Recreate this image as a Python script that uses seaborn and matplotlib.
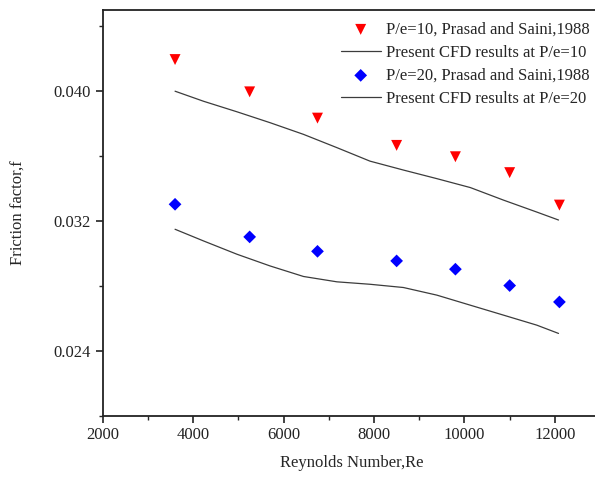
import matplotlib
matplotlib.use("Agg")
import matplotlib.pyplot as plt
from matplotlib.ticker import MultipleLocator, FormatStrFormatter
import seaborn as sns
import pandas as pd

# Reynolds numbers of the Prasad and Saini (1988) points
re_exp = [3600, 5250, 6750, 8500, 9800, 11000, 12100]
f_exp_pe10 = [0.04195, 0.03996, 0.03834, 0.03666, 0.03596, 0.03498, 0.03298]
f_exp_pe20 = [0.03303, 0.03102, 0.03013, 0.02954, 0.02903, 0.02802, 0.02701]

# Present CFD results (sampled along the computed curves)
re_cfd = [3600, 4230, 4970, 5700, 6440, 7180, 7910, 8650, 9390, 10130,
          10860, 11600, 12080]
f_cfd_pe10 = [0.04000, 0.03938, 0.03873, 0.03806, 0.03734, 0.03652, 0.03569,
              0.03514, 0.03461, 0.03406, 0.03329, 0.03255, 0.03206]
f_cfd_pe20 = [0.03149, 0.03077, 0.02995, 0.02923, 0.02858, 0.02825, 0.02810,
              0.02790, 0.02743, 0.02681, 0.02620, 0.02558, 0.02507]

label_exp10 = "P/e=10, Prasad and Saini,1988"
label_cfd10 = "Present CFD results at P/e=10"
label_exp20 = "P/e=20, Prasad and Saini,1988"
label_cfd20 = "Present CFD results at P/e=20"

exp_df = pd.DataFrame({"Re": re_exp, "pe10": f_exp_pe10, "pe20": f_exp_pe20})
cfd_df = pd.DataFrame({"Re": re_cfd, "pe10": f_cfd_pe10, "pe20": f_cfd_pe20})

sns.set_style("ticks")
plt.rcParams["font.family"] = ["Liberation Serif", "DejaVu Serif"]

fig = plt.figure(figsize=(5.95, 4.8), dpi=100)
ax = fig.add_axes([0.1726, 0.134, 0.836, 0.845])

line_color = "#3c3c3c"
sns.scatterplot(data=exp_df, x="Re", y="pe10", marker="v", s=62, color="#ff0000",
                edgecolor="none", linewidth=0, ax=ax, label=label_exp10, zorder=3)
sns.lineplot(data=cfd_df, x="Re", y="pe10", color=line_color, linewidth=0.9,
             ax=ax, label=label_cfd10)
sns.scatterplot(data=exp_df, x="Re", y="pe20", marker="D", s=42, color="#0000ff",
                edgecolor="none", linewidth=0, ax=ax, label=label_exp20, zorder=3)
sns.lineplot(data=cfd_df, x="Re", y="pe20", color=line_color, linewidth=0.9,
             ax=ax, label=label_cfd20)

ax.set_xlim(2000, 13000)
ax.set_ylim(0.020, 0.045)
ax.xaxis.set_major_locator(MultipleLocator(2000))
ax.xaxis.set_minor_locator(MultipleLocator(1000))
ax.yaxis.set_major_locator(MultipleLocator(0.008))
ax.yaxis.set_minor_locator(MultipleLocator(0.004))
ax.yaxis.set_major_formatter(FormatStrFormatter("%.3f"))

for side in ["left", "bottom", "top"]:
    ax.spines[side].set_linewidth(1.3)
    ax.spines[side].set_color("#222222")
ax.spines["right"].set_visible(False)

ax.tick_params(which="major", direction="out", length=5, width=1.2,
               labelsize=12, colors="#222222", top=False, right=False)
ax.tick_params(which="minor", direction="out", length=3, width=1.0,
               top=False, right=False)

ax.set_xlabel("Reynolds Number,Re", fontsize=12, labelpad=8)
ax.set_ylabel("Friction factor,f", fontsize=12, labelpad=19)

ax.legend(loc="upper left", bbox_to_anchor=(0.455, 1.0), frameon=False,
          fontsize=12, handlelength=2.4, handletextpad=0.3,
          labelspacing=0.42, borderaxespad=0.3)

fig.savefig("out.png", dpi=100)
